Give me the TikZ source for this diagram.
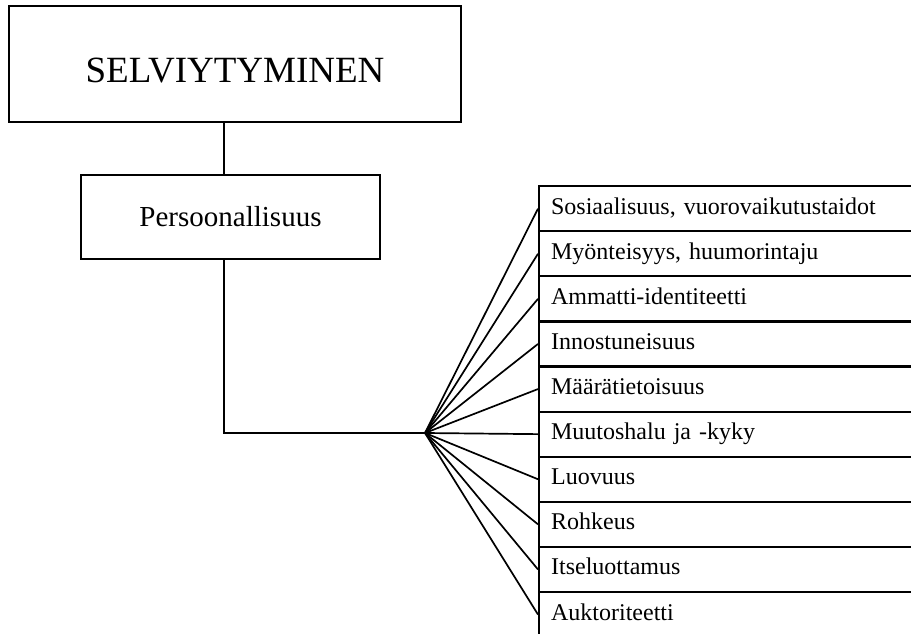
\documentclass[tikz,border=0pt]{standalone}
\usepackage{fontspec}
\setmainfont{Liberation Serif}
\begin{document}
\begin{tikzpicture}[x=1pt,y=-1pt,
  frame/.style={draw=black,line width=1.8pt,rectangle,inner sep=0pt},
  trait/.style={draw=black,line width=2.2pt,rectangle,anchor=north west,
    minimum width=420pt,minimum height=45.1pt,text width=396pt,align=left,
    inner xsep=12pt,inner ysep=0pt,text height=16pt,text depth=5pt,
    font=\fontsize{24}{26}\selectfont},
  link/.style={draw=black,line width=1.7pt}]
  \clip (0,0) rectangle (911,634);
  \fill[white] (0,0) rectangle (911,634);

  % main heading box
  \node[frame,minimum width=452pt,minimum height=116pt,text height=37pt,text depth=0pt,
        font=\fontsize{37}{40}\selectfont] (top) at (235,64) {SELVIYTYMINEN};
  % sub heading box
  \node[frame,minimum width=299pt,minimum height=84pt,
        font=\fontsize{29}{32}\selectfont] (pers) at (230.5,217) {Persoonallisuus};

  % spine and fan hub
  \coordinate (spine) at (224,0);
  \coordinate (hub) at (425,433);

  % list of traits
  \foreach \name [count=\i from 0] in {
      {Sosiaalisuus, vuorovaikutustaidot},
      {Myönteisyys, huumorintaju},
      {Ammatti-identiteetti},
      {Innostuneisuus},
      {Määrätietoisuus},
      {Muutoshalu ja -kyky},
      {Luovuus},
      {Rohkeus},
      {Itseluottamus},
      {Auktoriteetti}}{
    \node[trait] (t\i) at (538,{185+45.1*\i}) {\name};
    \draw[link] (hub) -- (t\i.west);
  }

  % connectors
  \draw[link] (top.south -| spine) -- (pers.north -| spine);
  \draw[link] (pers.south -| spine) |- (hub);
\end{tikzpicture}
\end{document}
